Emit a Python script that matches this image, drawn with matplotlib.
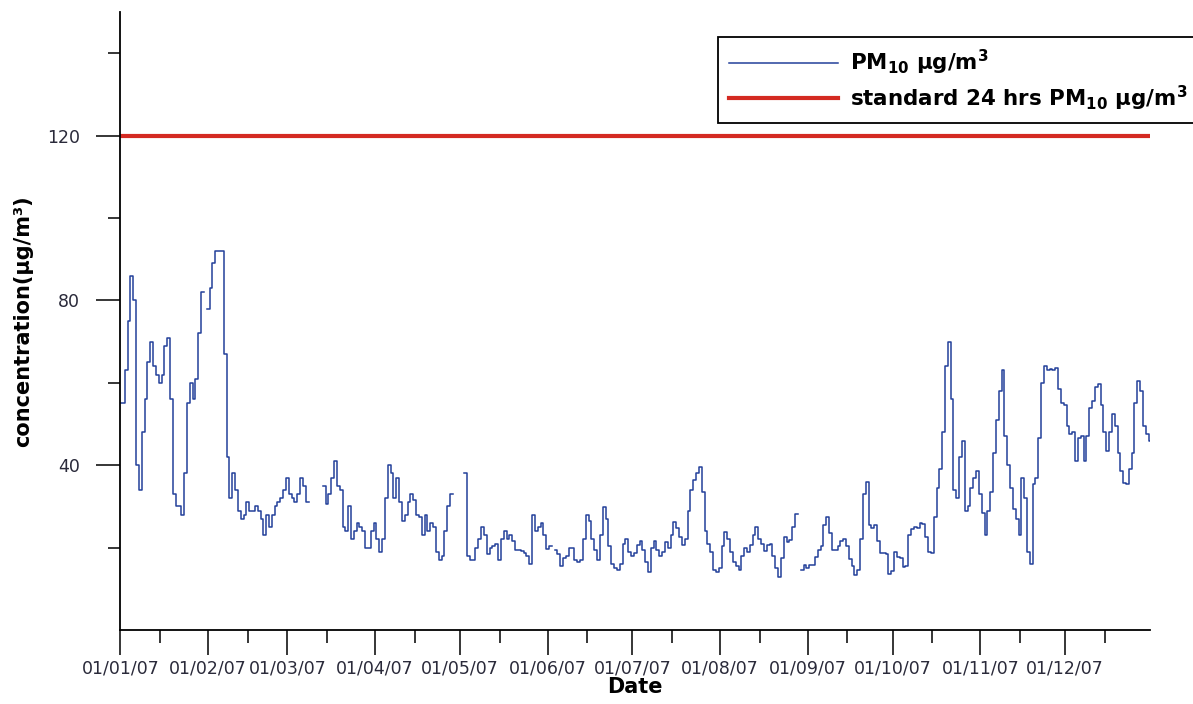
import numpy as np
import pandas as pd
import matplotlib
matplotlib.use("Agg")
import matplotlib.pyplot as plt
import matplotlib.dates as mdates

nan = np.nan

# daily PM10 (ug/m3) for 2007
jan = [55, 55, 63, 75, 86, 80, 40, 34, 48, 56, 65, 70, 64, 62, 60, 62, 69, 71, 56, 33,
       30, 30, 28, 38, 55, 60, 56, 61, 72, 82, nan]
feb = [78, 83, 89, 92, 92, 92, 67, 42, 32, 38, 34, 29, 27, 28, 31, 29, 29, 30, 29, 27,
       23, 28, 25, 28, 30, 31, 32, 34]
mar = [37, 33, 32, 31, 33, 37, 35, 31, nan, nan, nan, nan, nan, 35, 30.5, 33, 37, 41, 35, 34,
       25, 24, 30, 22, 24, 26, 25, 24, 20, 20, 24]
apr = [26, 22, 19, 22, 32, 40, 38, 32, 37, 31, 26.5, 28, 31, 33, 31.5, 28, 27.5, 23, 28, 24,
       26, 25, 19, 17, 18, 24, 30, 33, nan, nan]
may = [nan, nan, 38, 18, 17, 17, 20, 22, 25, 23, 18.5, 20, 20.5, 21, 17, 22, 24, 22, 23, 21.5,
       19.5, 19.5, 19.3, 18.8, 18, 16, 28, 24, 25, 26, 23]
jun = [19.7, 20.5, nan, 19.5, 18.5, 15.5, 17.5, 18, 20, 20, 17, 16.5, 17, 22, 28, 26.5, 22, 19.5, 17, 23,
       29.8, 27, 20.5, 16, 15, 14.6, 16, 21, 22, 19]
jul = [18, 18.6, 20.6, 21.5, 19.5, 16.5, 14, 20, 21.5, 19.5, 18, 19, 21.4, 20, 23, 26.3, 24.8, 22.5, 20.6, 22.2,
       29, 34, 36.5, 38, 39.5, 33.6, 24, 21, 19, 14.5, 14]
aug = [15, 20.5, 23.8, 22, 19, 16.5, 15.5, 14.5, 18, 20, 19, 20.6, 23, 25, 22.2, 20.8, 19.2, 20.6, 20.8, 18,
       15, 13, 17.5, 22.5, 21.4, 21.8, 25, 28.2, nan, 14.5, 15.8]
sep = [15, 15.7, 15.7, 17.7, 19.5, 20.3, 25.5, 27.5, 23.5, 19.4, 19.4, 20.3, 21.6, 22.2, 20.5, 17.2, 15.5, 13.3, 14.5, 22,
       33, 36, 25.5, 24.7, 25.5, 21.6, 18.6, 18.8, 18.5, 13.7]
octo = [14.4, 19, 17.7, 17.4, 15.2, 15.5, 23, 24.5, 25, 24.7, 26, 25.8, 22.5, 19, 18.8, 27.5, 34.5, 39, 48, 64,
        70, 56, 34, 32, 42, 46, 28.8, 30, 34.5, 37, 38.5]
nov = [33, 28.5, 23, 29, 33.5, 43, 51, 58, 63, 47, 40, 34.5, 29.5, 27, 23, 37, 32, 19, 16, 35.5,
       37, 46.5, 60, 64, 63, 63.3, 63, 63.5, 58.5, 55]
dec = [54.5, 49.5, 47.5, 48, 41, 46.5, 47, 41, 47, 54, 55.5, 59, 59.7, 54.5, 48, 43.5, 48, 52.5, 49.5, 43,
       38.5, 35.8, 35.5, 39.2, 43, 55, 60.5, 58, 49.5, 47.5, 46]

pm10 = np.array(jan + feb + mar + apr + may + jun + jul + aug + sep + octo + nov + dec, dtype=float)
dates = pd.date_range("2007-01-01", "2007-12-31", freq="D")
standard = np.full(len(dates), 120.0)  # 24 hrs standard

y_major = [40, 80, 120]
y_minor = [20, 60, 100, 140]

plt.rcParams['font.family'] = ['DejaVu Sans']
plt.rcParams['mathtext.default'] = 'bf'

fig = plt.figure(figsize=(11.93, 7.04), dpi=100)
ax = fig.add_axes([0.101, 0.105, 0.863, 0.878])

ax.plot(dates, pm10, color='#23409a', lw=1.1, drawstyle='steps-mid',
        label=r'PM$_{10}$ µg/m$^3$')
ax.plot(dates, standard, color='#d42a22', lw=3.0,
        label=r'standard 24 hrs PM$_{10}$ µg/m$^3$')

ax.set_xlim(dates[0], dates[-1])
ax.set_ylim(0, 150)

ax.xaxis.set_major_locator(mdates.MonthLocator())
ax.xaxis.set_minor_locator(mdates.MonthLocator(bymonthday=15))
ax.xaxis.set_major_formatter(mdates.DateFormatter('%d/%m/%y'))
ax.yaxis.set_major_locator(matplotlib.ticker.FixedLocator(y_major))
ax.yaxis.set_minor_locator(matplotlib.ticker.FixedLocator(y_minor))

for s in ['top', 'right']:
    ax.spines[s].set_visible(False)
for s in ['left', 'bottom']:
    ax.spines[s].set_linewidth(1.3)

ax.tick_params(axis='x', which='major', length=18, width=1.1, pad=3,
               labelsize=12.5, labelcolor='#2a2a3a')
ax.tick_params(axis='x', which='minor', length=9, width=1.1)
ax.tick_params(axis='y', which='major', length=17, width=1.1, pad=12,
               labelsize=12.5, labelcolor='#2a2a3a')
ax.tick_params(axis='y', which='minor', length=9, width=1.1)

ax.set_xlabel('Date', fontsize=15, fontweight='bold', labelpad=0)
ax.set_ylabel('concentration(µg/m³)', fontsize=15, fontweight='bold', labelpad=10)

leg = fig.legend(loc='upper left', bbox_to_anchor=(718 / 1193, 1 - 37 / 704),
                 fontsize=15.4, handlelength=5.1, handletextpad=0.55,
                 labelspacing=0.3, borderpad=0.5, borderaxespad=0,
                 fancybox=False, framealpha=1, edgecolor='black')
leg.get_frame().set_linewidth(1.3)
for t in leg.get_texts():
    t.set_fontweight('bold')

fig.savefig('out.png', dpi=100)
